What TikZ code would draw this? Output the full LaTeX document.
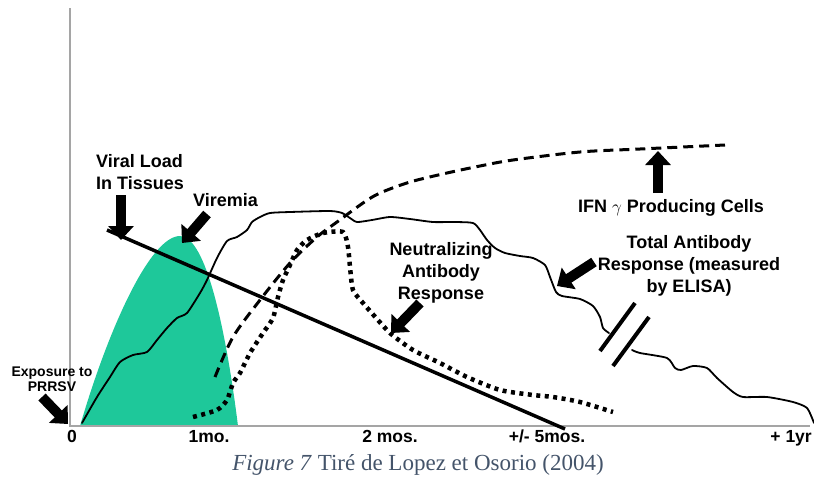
\documentclass[tikz,border=0pt]{standalone}
\usepackage{fontspec}
\setmainfont{Liberation Sans}
\newfontfamily\capfont{Liberation Serif}
\usetikzlibrary{arrows.meta}
\definecolor{viremia}{RGB}{30,200,154}
\definecolor{axisgray}{RGB}{165,165,165}
\definecolor{capblue}{RGB}{68,84,106}

\begin{document}
\begin{tikzpicture}[x=1pt,y=-1pt]
    \tikzstyle{axis} = [draw=axisgray, line width=1.5pt]
    \tikzstyle{curve} = [line width=1.8pt, line join=round, line cap=round]
    \tikzstyle{fat} = [-{Triangle[length=14pt,width=25pt]}, line width=10pt]
    \tikzstyle{lbl} = [font=\fontsize{18}{22}\selectfont\bfseries, align=center,
        inner sep=0pt]
    \tikzstyle{tick} = [font=\fontsize{17.5}{20}\selectfont\bfseries, inner sep=0pt,
        anchor=base]

    \useasboundingbox (0,0) rectangle (814,480);
    \clip (0,0) rectangle (814,480);
    %\draw[step=50pt,gray,very thin] (0,0) grid (814,480);

    % viremia
    \fill[viremia] (80,426) .. controls (108,330) and (150,236) .. (180,236)
        .. controls (206,236) and (226,330) .. (238,426) -- cycle;

    \coordinate (origin) at (70,426);
    \coordinate (ytop) at (70,8);
    \coordinate (xend) at (810,426);
    \draw[axis] (ytop) -- (origin) -- (xend);

    % viral load
    \draw[line width=3.5pt] (107,230) -- (565,429);

    % total antibody
    \draw[curve] plot[smooth, tension=0.4] coordinates {(82,423) (97,397)
        (110,377) (120,362) (133,355) (147,352) (157,340) (167,328) (177,318)
        (187,313) (200,293) (207,280) (217,258) (227,241) (237,237) (247,230)
        (252,222) (260,217) (270,213) (290,212) (330,211) (342,213) (350,218)
        (357,222) (372,220) (390,217) (410,219) (433,222) (455,222) (473,223)
        (480,230) (487,240) (495,248) (505,253) (520,256) (533,258) (545,265)
        (550,277) (556,292) (562,296) (580,299) (593,306) (600,317) (603,328)
        (609,333)};
    \draw[curve] plot[smooth, tension=0.4] coordinates {(632,350) (640,353)
        (667,358) (675,368) (681,370) (693,366) (707,368) (717,378) (733,392)
        (743,397) (767,397) (793,402) (807,408) (814,423)};
    \draw[line width=4pt] (600,351) -- (635,303);
    \draw[line width=4pt] (613,366) -- (649,317);

    % IFN gamma
    \draw[line width=3pt, dash pattern=on 10pt off 6pt] plot[smooth, tension=0.5]
        coordinates {(215,377) (233,337) (260,300) (290,263) (317,237) (337,222)
        (363,203) (380,193) (410,182) (447,173) (480,166) (513,160) (580,152)
        (640,149) (725,145)};

    % neutralizing antibody
    \draw[line width=4.5pt, dash pattern=on 4pt off 4.5pt] plot[smooth, tension=0.4]
        coordinates {(193,417) (217,410) (227,400) (233,383) (240,373) (250,353)
        (263,333) (273,318) (278,297) (283,280) (290,265) (297,250) (307,240)
        (323,233) (343,232) (348,247) (350,267) (353,290) (363,303) (370,311)
        (390,333) (413,350) (440,363) (467,377) (500,390) (533,395) (553,397)
        (580,402) (613,412)};

    \node(viral) [lbl, align=left] at (96,154) [anchor=north west]
        {Viral Load\\In Tissues};
    \node(viremiatxt) [lbl] at (193,206) [anchor=base west] {Viremia};
    \node(expo) [lbl, font=\fontsize{14}{15}\selectfont\bfseries] at (52,367)
        [anchor=north] {Exposure to\\PRRSV};
    \node(neut) [lbl] at (441,242) [anchor=north]
        {Neutralizing\\Antibody\\Response};
    \node(ifn) [lbl] at (671,212) [anchor=base]
        {IFN $\gamma$ Producing Cells};
    \node(total) [lbl] at (689,235) [anchor=north]
        {Total Antibody\\Response (measured\\by ELISA)};

    \coordinate (vlTail) at (121,195);
    \coordinate (vlTip) at (121,240);
    \coordinate (vrTail) at (207,214);
    \coordinate (vrTip) at (182,243);
    \coordinate (exTail) at (42,397);
    \coordinate (exTip) at (68,424);
    \coordinate (neTail) at (420,303);
    \coordinate (neTip) at (391,333);
    \coordinate (taTail) at (594,262);
    \coordinate (taTip) at (557,286);
    \coordinate (ifTail) at (658,193);
    \coordinate (ifTip) at (658,151);
    \draw[fat] (vlTail) -- (vlTip);
    \draw[fat] (vrTail) -- (vrTip);
    \draw[fat] (exTail) -- (exTip);
    \draw[fat] (neTail) -- (neTip);
    \draw[fat] (taTail) -- (taTip);
    \draw[fat] (ifTail) -- (ifTip);

    \node(t0) [tick] at (72,442) {0};
    \node(t1) [tick] at (209,442) {1mo.};
    \node(t2) [tick] at (390,442) {2 mos.};
    \node(t5) [tick] at (547,442) {+/- 5mos.};
    \node(t12) [tick] at (812,442) [anchor=base east] {+ 1yr};

    \node(caption) [font=\fontsize{23}{26}\selectfont\capfont, text=capblue,
        inner sep=0pt] at (418,470) [anchor=base]
        {\textit{Figure 7} Tiré de Lopez et Osorio (2004)};
\end{tikzpicture}
\end{document}
